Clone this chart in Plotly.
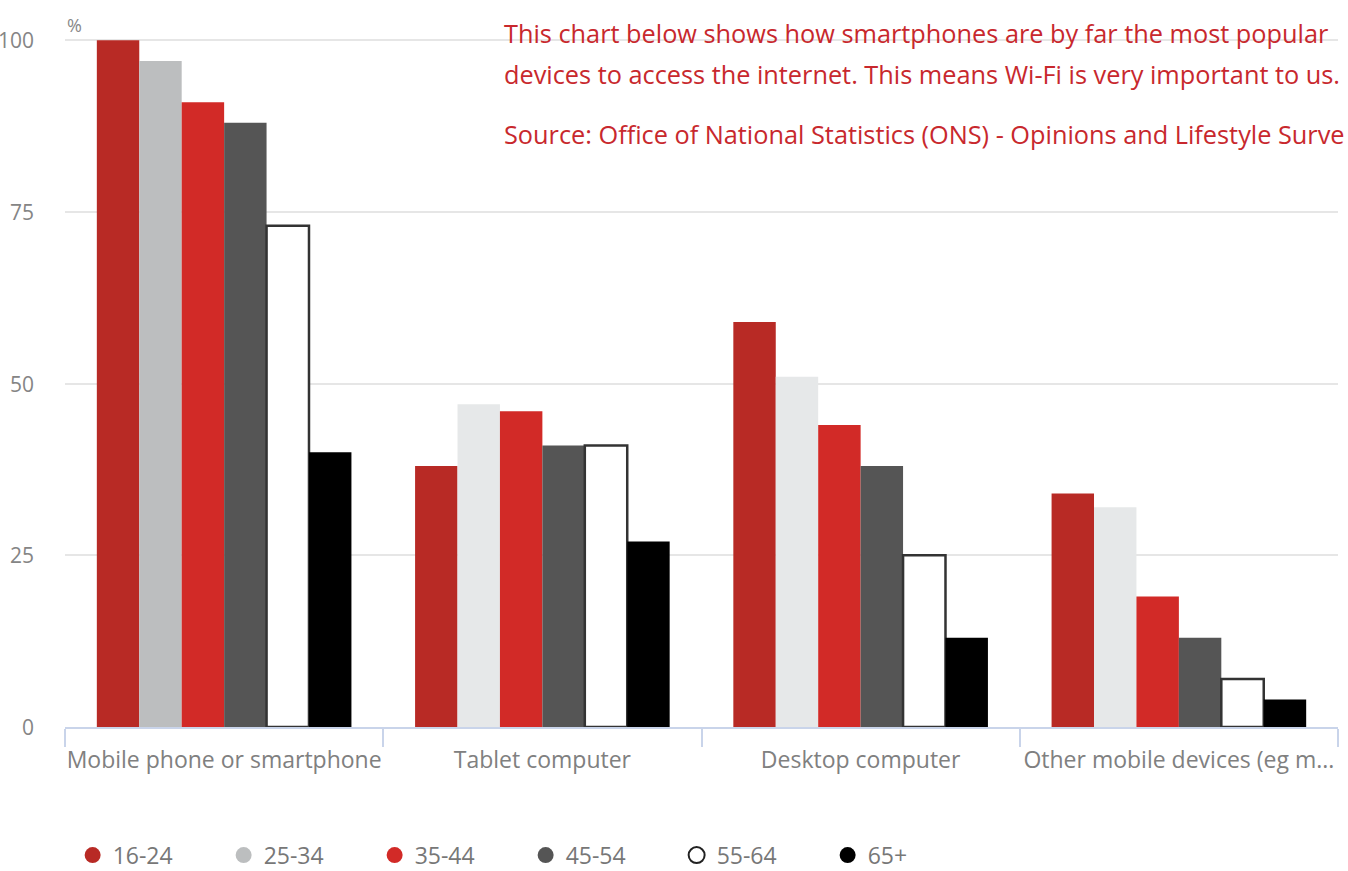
import plotly.graph_objects as go

categories = ["Mobile phone or smartphone", "Tablet computer", "Desktop computer", "Other mobile devices (eg m..."]
age_groups = ["16-24", "25-34", "35-44", "45-54", "55-64", "65+"]
values = {
    "16-24": [100, 38, 59, 34],
    "25-34": [97, 47, 51, 32],
    "35-44": [91, 46, 44, 19],
    "45-54": [88, 41, 38, 13],
    "55-64": [73, 41, 25, 7],
    "65+": [40, 27, 13, 4],
}
fill_colors = {
    "16-24": ["#b82a25"] * 4,
    "25-34": ["#bcbebf", "#e6e8e9", "#e6e8e9", "#e6e8e9"],
    "35-44": ["#d22a27"] * 4,
    "45-54": ["#555555"] * 4,
    "55-64": ["#ffffff"] * 4,
    "65+": ["#000000"] * 4,
}
legend_colors = {"16-24": "#b82a25", "25-34": "#bcbebf", "35-44": "#d22a27",
                 "45-54": "#555555", "55-64": "#ffffff", "65+": "#000000"}
y_ticks = [0, 25, 50, 75, 100]
note_lines = ["This chart below shows how smartphones are by far the most popular",
              "devices to access the internet. This means Wi-Fi is very important to us.",
              "Source: Office of National Statistics (ONS) - Opinions and Lifestyle Surve"]
note_y = [1.036, 0.977, 0.889]

fig = go.Figure()
for g in age_groups:
    outline = "#333333" if g == "55-64" else fill_colors[g][0]
    lw = 2.5 if g == "55-64" else 0
    fig.add_trace(go.Bar(
        x=categories, y=values[g], name=g, showlegend=False,
        marker=dict(color=fill_colors[g], line=dict(color=outline, width=lw)),
    ))
for g in age_groups:
    fig.add_trace(go.Scatter(
        x=[None], y=[None], mode="markers", name=g,
        marker=dict(symbol="circle", size=16, color=legend_colors[g],
                    line=dict(color="#222222", width=2 if g == "55-64" else 0)),
    ))

fig.update_layout(
    width=1348, height=871,
    margin=dict(l=65, r=10, t=39, b=144, autoexpand=False),
    paper_bgcolor="white", plot_bgcolor="white",
    barmode="group", bargap=0.2, bargroupgap=0,
    font=dict(family="Open Sans", color="#777777"),
    legend=dict(orientation="h", x=0.006, xanchor="left", y=-0.155, yanchor="top",
                font=dict(family="Open Sans", size=23, color="#777777"),
                entrywidth=106, itemsizing="trace"),
    xaxis=dict(
        showline=True, linecolor="#c9d4ea", linewidth=1.5, tickangle=0, automargin=False,
        ticks="outside", tickson="boundaries", ticklen=18, tickcolor="#c9d4ea", tickwidth=1.5,
        tickfont=dict(size=23, color="#808080"), showgrid=False, ticklabelstandoff=12,
    ),
    yaxis=dict(
        range=[0, 100.2], tickvals=y_ticks, showticklabels=False, automargin=False,
        showgrid=True, gridcolor="#e6e6e6", gridwidth=1.5, zeroline=False,
    ),
)
for v in y_ticks:
    fig.add_annotation(text=str(v), xref="paper", yref="y", x=0, y=v, xanchor="right", yanchor="middle",
                       xshift=-29, showarrow=False, font=dict(size=21, color="#858585"))
fig.add_annotation(text="%", xref="paper", yref="paper", x=0.0, y=1.0, xanchor="left", yanchor="bottom",
                   showarrow=False, font=dict(size=18, color="#888888"), xshift=0, yshift=0)
for line, yy in zip(note_lines, note_y):
    fig.add_annotation(text=line, xref="paper", yref="paper", x=0.343, y=yy,
                       xanchor="left", yanchor="top", align="left", showarrow=False,
                       font=dict(family="Open Sans", size=25.3, color="#c8282d"))

fig.write_html("out.html")
